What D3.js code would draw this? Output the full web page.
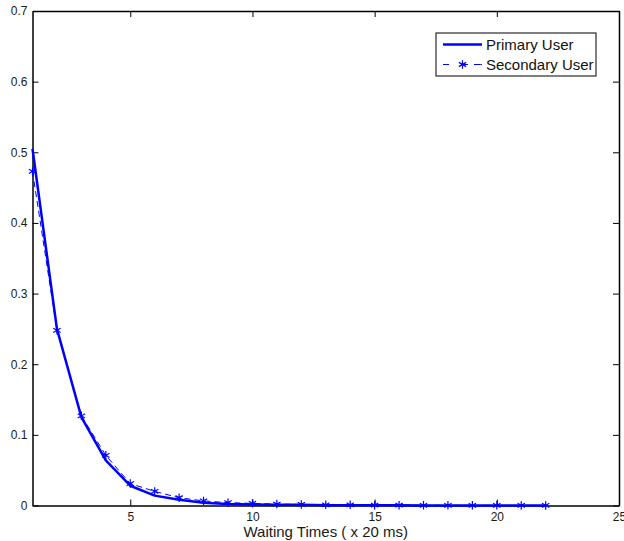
<!DOCTYPE html>
<html>
<head>
<meta charset="utf-8">
<script src="https://cdn.jsdelivr.net/npm/d3@7"></script>
<style>
  body { margin: 0; background: #fff; }
  svg { display: block; font-family: "Liberation Sans", Arial, sans-serif; }
</style>
</head>
<body>
<svg id="drawing_region"></svg>
<script>
// waiting time index (x 20 ms)
const waiting = [1, 2, 3, 4, 5, 6, 7, 8, 9, 10, 11, 12, 13, 14, 15, 16, 17, 18, 19, 20, 21, 22];
const primary_user = [0.505, 0.250, 0.125, 0.064, 0.028, 0.014, 0.008, 0.004, 0.002, 0.0015, 0.001, 0.001,
    0.0005, 0.0005, 0.0003, 0.0002, 0.0001, 0.0001, 0.0001, 0.0001, 0.0, 0.0];
const secondary_user = [0.473, 0.248, 0.127, 0.071, 0.031, 0.020, 0.011, 0.0065, 0.004, 0.003, 0.002, 0.0015,
    0.001, 0.001, 0.0005, 0.0005, 0.0003, 0.0003, 0.0002, 0.0002, 0.0001, 0.0001];
const x_ticks = [5, 10, 15, 20, 25];
const y_ticks = [0, 0.1, 0.2, 0.3, 0.4, 0.5, 0.6, 0.7];

class LinePlot {

    constructor(config) {
        this.config = config;
        this.init();
    }

    init() {
        let self = this;

        self.svg = d3.select(self.config.parent)
            .attr('width', self.config.width)
            .attr('height', self.config.height);

        self.chart = self.svg.append('g')
            .attr('transform', `translate(${self.config.margin.left}, ${self.config.margin.top})`);

        self.inner_width = self.config.width - self.config.margin.left - self.config.margin.right;
        self.inner_height = self.config.height - self.config.margin.top - self.config.margin.bottom;

        self.xscale = d3.scaleLinear()
            .domain([1, 25])
            .range([0, self.inner_width]);

        self.yscale = d3.scaleLinear()
            .domain([0, 0.7])
            .range([self.inner_height, 0]);
    }

    render() {
        let self = this;
        const tick = 6;

        self.chart.append('rect')
            .attr('width', self.inner_width)
            .attr('height', self.inner_height)
            .attr('fill', '#fff');

        // axes, inward ticks on all four sides (matlab box)
        const xbottom = self.chart.append('g')
            .attr('transform', `translate(0, ${self.inner_height})`)
            .call(d3.axisBottom(self.xscale).tickValues(x_ticks).tickSizeInner(-tick).tickSizeOuter(0).tickPadding(7));
        const xtop = self.chart.append('g')
            .call(d3.axisTop(self.xscale).tickValues(x_ticks).tickSizeInner(-tick).tickSizeOuter(0).tickFormat(''));
        const yleft = self.chart.append('g')
            .call(d3.axisLeft(self.yscale).tickValues(y_ticks).tickSizeInner(-tick).tickSizeOuter(0).tickPadding(5)
                .tickFormat(d => d === 0 ? '0' : d3.format('.1f')(d)));
        const yright = self.chart.append('g')
            .attr('transform', `translate(${self.inner_width}, 0)`)
            .call(d3.axisRight(self.yscale).tickValues(y_ticks).tickSizeInner(-tick).tickSizeOuter(0).tickFormat(''));

        [xbottom, xtop, yleft, yright].forEach(g => {
            g.select('.domain').attr('stroke', '#000').attr('stroke-width', 1.5);
            g.selectAll('.tick line').attr('stroke', '#000');
            g.selectAll('.tick text')
                .attr('fill', '#1a1a1a')
                .style('font-size', '12px')
                .style('font-family', '"Liberation Sans", Arial, sans-serif');
        });

        const line = d3.line()
            .x((d, i) => self.xscale(waiting[i]))
            .y(d => self.yscale(d));

        // secondary user: thin dashed with asterisks
        self.chart.append('path')
            .datum(secondary_user)
            .attr('d', line)
            .attr('fill', 'none')
            .attr('stroke', '#0000ff')
            .attr('stroke-width', 1)
            .attr('stroke-dasharray', '6,4');

        const star = d3.symbol().type(d3.symbolAsterisk).size(50);
        self.chart.selectAll('.star')
            .data(secondary_user)
            .enter()
            .append('path')
            .attr('class', 'star')
            .attr('transform', (d, i) => `translate(${self.xscale(waiting[i])}, ${self.yscale(d)})`)
            .attr('d', star)
            .attr('fill', 'none')
            .attr('stroke', '#0000ff')
            .attr('stroke-width', 1.2);

        // primary user: thick solid
        self.chart.append('path')
            .datum(primary_user)
            .attr('d', line)
            .attr('fill', 'none')
            .attr('stroke', '#0000ff')
            .attr('stroke-width', 2.5)
            .attr('stroke-linejoin', 'round');

        self.svg.append('text')
            .attr('x', self.config.margin.left + self.inner_width / 2)
            .attr('y', self.config.margin.top + self.inner_height + 31)
            .attr('text-anchor', 'middle')
            .attr('fill', '#1a1a1a')
            .style('font-size', '15px')
            .text('Waiting Times ( x 20 ms)');

        // legend
        const legend = self.svg.append('g')
            .attr('transform', 'translate(436, 33)');
        legend.append('rect')
            .attr('width', 160)
            .attr('height', 43)
            .attr('fill', '#fff')
            .attr('stroke', '#000')
            .attr('stroke-width', 1);

        legend.append('line')
            .attr('x1', 7).attr('x2', 46)
            .attr('y1', 11.5).attr('y2', 11.5)
            .attr('stroke', '#0000ff')
            .attr('stroke-width', 2.5);
        legend.append('line')
            .attr('x1', 7).attr('x2', 46)
            .attr('y1', 31.5).attr('y2', 31.5)
            .attr('stroke', '#0000ff')
            .attr('stroke-width', 1)
            .attr('stroke-dasharray', '6,6.5,0,6.5,6');
        legend.append('path')
            .attr('transform', 'translate(26.5, 31.5)')
            .attr('d', star)
            .attr('fill', 'none')
            .attr('stroke', '#0000ff')
            .attr('stroke-width', 1.2);

        legend.selectAll('.label')
            .data(['Primary User', 'Secondary User'])
            .enter()
            .append('text')
            .attr('x', 50)
            .attr('y', (d, i) => 16.5 + i * 20)
            .attr('fill', '#111')
            .style('font-size', '15px')
            .text(d => d);
    }
}

const config = {
    parent: '#drawing_region',
    width: 624,
    height: 541,
    margin: { top: 11, right: 5, bottom: 35.5, left: 32.5 }
};

const plot = new LinePlot(config);
plot.render();
</script>
</body>
</html>
